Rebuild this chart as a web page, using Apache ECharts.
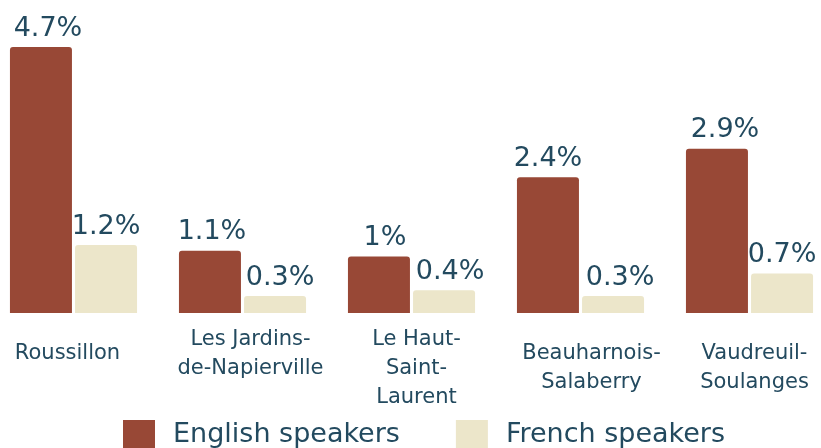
<!DOCTYPE html>
<html>
<head>
<meta charset="utf-8">
<script src="https://cdn.jsdelivr.net/npm/echarts@6/dist/echarts.min.js"></script>
<style>
  html, body { margin: 0; padding: 0; background: #fff; overflow: hidden; }
  /* plot runs slightly past both page edges, so the chart box is wider than the page */
  #chart { width: 845px; height: 448px; margin-left: -11px; }
</style>
</head>
<body>
<div id="chart"></div>
<script>
// data
const regions = ['Roussillon', 'Les Jardins-\nde-Napierville', 'Le Haut-\nSaint-\nLaurent', 'Beauharnois-\nSalaberry', 'Vaudreuil-\nSoulanges'];
const englishSpeakers = [4.7, 1.1, 1.0, 2.4, 2.9];
const frenchSpeakers = [1.2, 0.3, 0.4, 0.3, 0.7];

const textColor = '#234a5f';
const font = 'DejaVu Sans';

// category label nudges: [down, sideways] in px
const labelNudge = [[14, -6], [0, 8], [0, 5], [14, 11], [14, 5]];
// value labels in the original are not always centred on their bar
const englishLabelDx = [7, 2, 6, 0, 8];
const frenchLabelDx = [0, 5, 6, 7, 0];

const catData = regions.map(function (r, i) {
    const dy = labelNudge[i][0], dx = labelNudge[i][1];
    return {
        value: r,
        textStyle: { padding: [dy, dx < 0 ? -2 * dx : 0, 0, dx > 0 ? 2 * dx : 0] }
    };
});

function withOffsets(values, dxs) {
    return values.map(function (v, i) {
        return { value: v, label: { offset: [dxs[i], 0] } };
    });
}

const chart = echarts.init(document.getElementById('chart'));

const valueLabel = {
    show: true,
    position: 'top',
    distance: 5,
    color: textColor,
    fontFamily: font,
    fontSize: 27,
    formatter: function (p) { return p.value + '%'; }
};

chart.setOption({
    animation: false,
    textStyle: { fontFamily: font },
    grid: {
        left: 0,
        right: 0,
        top: 47,
        bottom: 135
    },
    legend: {
        bottom: -7,
        left: 129,
        itemWidth: 32,
        itemHeight: 30,
        itemGap: 56,
        icon: 'rect',
        textStyle: { color: textColor, fontSize: 27, fontFamily: font, padding: [0, 0, 0, 13] },
        data: ['English speakers', 'French speakers']
    },
    xAxis: {
        type: 'category',
        data: catData,
        axisLine: { show: false },
        axisTick: { show: false },
        axisLabel: {
            color: textColor,
            fontSize: 21,
            fontFamily: font,
            lineHeight: 29,
            margin: 12,
            interval: 0,
            verticalAlign: 'top'
        }
    },
    yAxis: {
        type: 'value',
        min: 0,
        max: 4.7,
        show: false,
        splitLine: { show: false }
    },
    series: [
        {
            name: 'English speakers',
            type: 'bar',
            data: withOffsets(englishSpeakers, englishLabelDx),
            barWidth: 62,
            barGap: '5%',
            itemStyle: { color: '#984836', borderRadius: [3, 3, 0, 0] },
            label: valueLabel
        },
        {
            name: 'French speakers',
            type: 'bar',
            data: withOffsets(frenchSpeakers, frenchLabelDx),
            barWidth: 62,
            itemStyle: { color: '#ece6ca', borderRadius: [3, 3, 0, 0] },
            label: valueLabel
        }
    ]
});
</script>
</body>
</html>
